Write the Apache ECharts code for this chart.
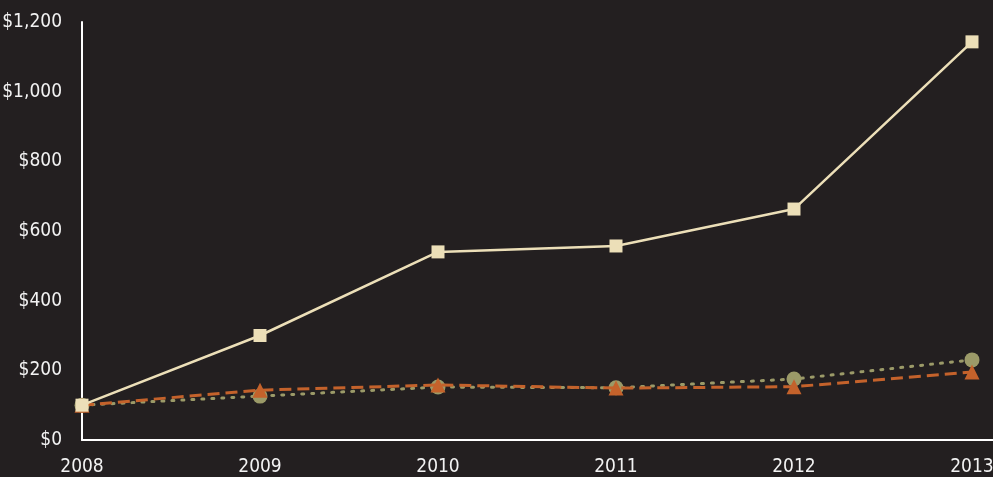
<!DOCTYPE html>
<html>
<head>
<meta charset="utf-8">
<script src="https://cdn.jsdelivr.net/npm/echarts@6/dist/echarts.min.js"></script>
<style>
  html, body { margin: 0; padding: 0; background: #231f20; }
  #chart { width: 993px; height: 477px; }
</style>
</head>
<body>
<div id="chart"></div>
<script>
const years = [2008, 2009, 2010, 2011, 2012, 2013];
const creamValues = [100, 300, 540, 557, 663, 1143];
const orangeValues = [100, 143, 158, 149, 153, 195];
const oliveValues = [100, 126, 152, 150, 175, 230];
const yTicks = [0, 200, 400, 600, 800, 1000, 1200];

// narrowest installed face, closest to the condensed labels
const labelFont = '"DejaVu Sans Condensed", "Roboto", sans-serif';

function pairs(values) {
    return values.map((v, i) => [years[i], v]);
}

const chart = echarts.init(document.getElementById('chart'));

chart.setOption({
    backgroundColor: '#231f20',
    animation: false,
    grid: {
        left: 82,
        right: 0,
        top: 22,
        bottom: 37,
        containLabel: false,
        outerBoundsMode: 'none'
    },
    xAxis: {
        type: 'value',
        min: years[0],
        max: 2013.118,
        interval: 1,
        axisLine: { show: true, onZero: false, lineStyle: { color: '#ffffff', width: 2 } },
        axisTick: { show: false },
        splitLine: { show: false },
        axisLabel: {
            color: '#f2f2f2',
            fontFamily: labelFont,
            fontSize: 19,
            margin: 18,
            showMaxLabel: false,
            formatter: v => Number.isInteger(v) ? String(v) : ''
        }
    },
    yAxis: {
        type: 'value',
        min: yTicks[0],
        max: yTicks[yTicks.length - 1],
        interval: 200,
        axisLine: { show: true, lineStyle: { color: '#ffffff', width: 2 } },
        axisTick: { show: false },
        splitLine: { show: false },
        axisLabel: {
            color: '#f2f2f2',
            fontFamily: labelFont,
            fontSize: 19,
            margin: 20,
            formatter: v => '$' + v.toLocaleString('en-US')
        }
    },
    series: [
        {
            type: 'line',
            data: pairs(oliveValues),
            symbol: 'circle',
            symbolSize: 15,
            itemStyle: { color: '#9b9a68' },
            lineStyle: { color: '#9b9a68', width: 3, type: [2, 8], cap: 'round' },
            z: 2
        },
        {
            type: 'line',
            data: pairs(orangeValues),
            symbol: 'triangle',
            symbolSize: 15,
            itemStyle: { color: '#c4622b' },
            lineStyle: { color: '#c4622b', width: 3, type: [12, 6] },
            z: 3
        },
        {
            type: 'line',
            data: pairs(creamValues),
            symbol: 'rect',
            symbolSize: 13,
            itemStyle: { color: '#ecdfb8' },
            lineStyle: { color: '#ecdfb8', width: 2.5 },
            z: 4
        }
    ]
});

window.addEventListener('resize', () => chart.resize());
</script>
</body>
</html>
